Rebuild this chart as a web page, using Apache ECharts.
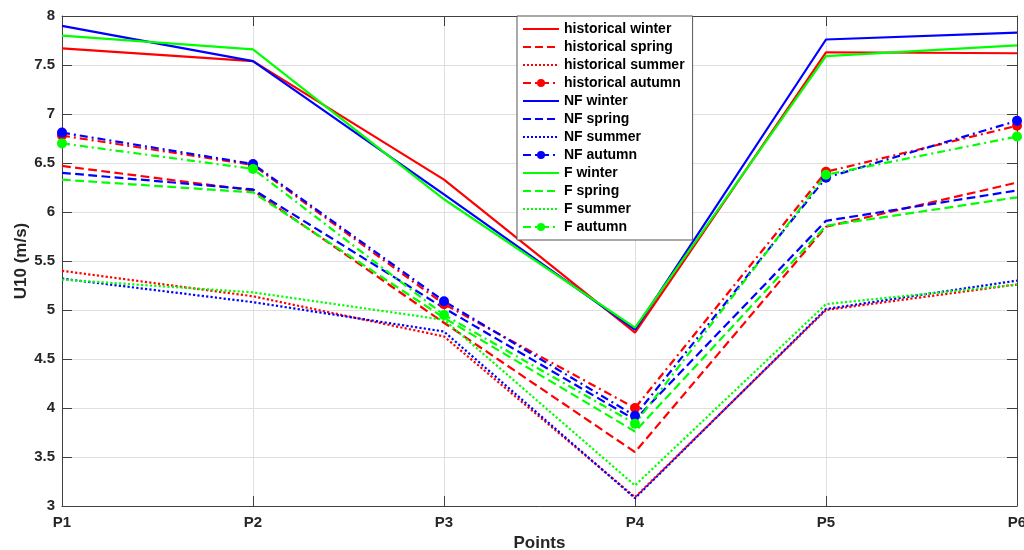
<!DOCTYPE html>
<html>
<head>
<meta charset="utf-8">
<script src="https://cdn.jsdelivr.net/npm/echarts@6/dist/echarts.min.js"></script>
<style>
    html, body { margin: 0; padding: 0; background: #fff; overflow: hidden; }
    #main { width: 1024px; height: 550px; }
</style>
</head>
<body>
<div id="main"></div>
<script>
// x categories and y tick range
var categories = ['P1', 'P2', 'P3', 'P4', 'P5', 'P6'];
var yMin = 3, yMax = 8, yStep = 0.5;

// U10 values
var histWinter = [7.67, 7.54, 6.33, 4.77, 7.63, 7.62];
var histSpring = [6.47, 6.22, 4.87, 3.55, 5.85, 6.30];
var histSummer = [5.40, 5.14, 4.73, 3.09, 5.00, 5.26];
var histAutumn = [6.78, 6.48, 5.06, 4.00, 6.41, 6.88];
var nfWinter = [7.90, 7.54, 6.18, 4.80, 7.76, 7.83];
var nfSpring = [6.40, 6.23, 5.02, 3.88, 5.91, 6.22];
var nfSummer = [5.32, 5.08, 4.78, 3.08, 5.01, 5.30];
var nfAutumn = [6.81, 6.49, 5.09, 3.92, 6.35, 6.93];
var fWinter = [7.80, 7.66, 6.13, 4.82, 7.59, 7.70];
var fSpring = [6.33, 6.20, 4.92, 3.76, 5.86, 6.15];
var fSummer = [5.31, 5.18, 4.90, 3.21, 5.06, 5.26];
var fAutumn = [6.70, 6.44, 4.95, 3.84, 6.38, 6.77];

var FONT = "'Liberation Sans', Arial, Helvetica, sans-serif";
var AXIS_COLOR = '#404040';
var RED = '#ff0000', BLUE = '#0000ff', GREEN = '#00ff00';

var dashDot = [8, 4, 2, 4];

function makeLine(name, data, color, dash, marker) {
    return {
        name: name,
        type: 'line',
        data: data,
        symbol: marker ? 'circle' : 'none',
        symbolSize: 10,
        showSymbol: !!marker,
        itemStyle: { color: color },
        lineStyle: { color: color, width: 2.2, type: dash },
        emphasis: { disabled: true },
        animation: false
    };
}

var series = [
    makeLine('historical winter', histWinter, RED, 'solid', false),
    makeLine('historical spring', histSpring, RED, 'dashed', false),
    makeLine('historical summer', histSummer, RED, 'dotted', false),
    makeLine('historical autumn', histAutumn, RED, dashDot, true),
    makeLine('NF winter', nfWinter, BLUE, 'solid', false),
    makeLine('NF spring', nfSpring, BLUE, 'dashed', false),
    makeLine('NF summer', nfSummer, BLUE, 'dotted', false),
    makeLine('NF autumn', nfAutumn, BLUE, dashDot, true),
    makeLine('F winter', fWinter, GREEN, 'solid', false),
    makeLine('F spring', fSpring, GREEN, 'dashed', false),
    makeLine('F summer', fSummer, GREEN, 'dotted', false),
    makeLine('F autumn', fAutumn, GREEN, dashDot, true)
];

// legend entries: hide the dot on series without markers
var legendData = series.map(function (s) {
    var item = { name: s.name };
    if (s.symbol === 'none') {
        item.itemStyle = { opacity: 0 };
    }
    return item;
});

var myChart = echarts.init(document.getElementById('main'), null, { renderer: 'canvas' });

var option = {
    backgroundColor: '#fff',
    textStyle: { fontFamily: FONT },
    grid: {
        left: 62,
        right: 7,
        top: 16,
        bottom: 44,
        containLabel: false,
        outerBoundsMode: 'none'
    },
    legend: {
        orient: 'vertical',
        left: 517,
        top: 16,
        data: legendData,
        selectedMode: false,
        backgroundColor: '#fff',
        borderColor: '#555',
        borderWidth: 1,
        padding: [6, 8, 6, 5],
        itemWidth: 36,
        itemHeight: 10,
        itemGap: 4,
        textStyle: {
            fontFamily: FONT,
            fontSize: 14,
            fontWeight: 'bold',
            color: '#000'
        }
    },
    xAxis: [{
        type: 'category',
        data: categories,
        boundaryGap: false,
        name: 'Points',
        nameLocation: 'middle',
        nameGap: 29,
        nameMoveOverlap: false,
        nameTextStyle: { fontFamily: FONT, fontSize: 17, fontWeight: 'bold', color: '#262626' },
        axisLine: { lineStyle: { color: AXIS_COLOR, width: 1 } },
        axisTick: { inside: true, length: 10, lineStyle: { color: AXIS_COLOR } },
        axisLabel: { fontFamily: FONT, fontSize: 15, fontWeight: 'bold', color: '#262626', margin: 9 },
        splitLine: { show: true, lineStyle: { color: '#dfdfdf', width: 1 } }
    }, {
        type: 'category',
        data: categories,
        boundaryGap: false,
        position: 'top',
        axisLine: { lineStyle: { color: AXIS_COLOR, width: 1 } },
        axisTick: { inside: true, length: 10, lineStyle: { color: AXIS_COLOR } },
        axisLabel: { show: false },
        splitLine: { show: false }
    }],
    yAxis: [{
        type: 'value',
        min: yMin,
        max: yMax,
        interval: yStep,
        name: 'U10 (m/s)',
        nameLocation: 'middle',
        nameGap: 32,
        nameMoveOverlap: false,
        nameTextStyle: { fontFamily: FONT, fontSize: 17, fontWeight: 'bold', color: '#262626' },
        axisLine: { show: true, lineStyle: { color: AXIS_COLOR, width: 1 } },
        axisTick: { show: true, inside: true, length: 10, lineStyle: { color: AXIS_COLOR } },
        axisLabel: { fontFamily: FONT, fontSize: 15, fontWeight: 'bold', color: '#262626', margin: 7 },
        splitLine: { show: true, lineStyle: { color: '#dfdfdf', width: 1 } }
    }, {
        type: 'value',
        min: yMin,
        max: yMax,
        interval: yStep,
        position: 'right',
        axisLine: { show: true, lineStyle: { color: AXIS_COLOR, width: 1 } },
        axisTick: { show: true, inside: true, length: 10, lineStyle: { color: AXIS_COLOR } },
        axisLabel: { show: false },
        splitLine: { show: false }
    }],
    series: series
};

myChart.clear();
myChart.setOption(option);
</script>
</body>
</html>
